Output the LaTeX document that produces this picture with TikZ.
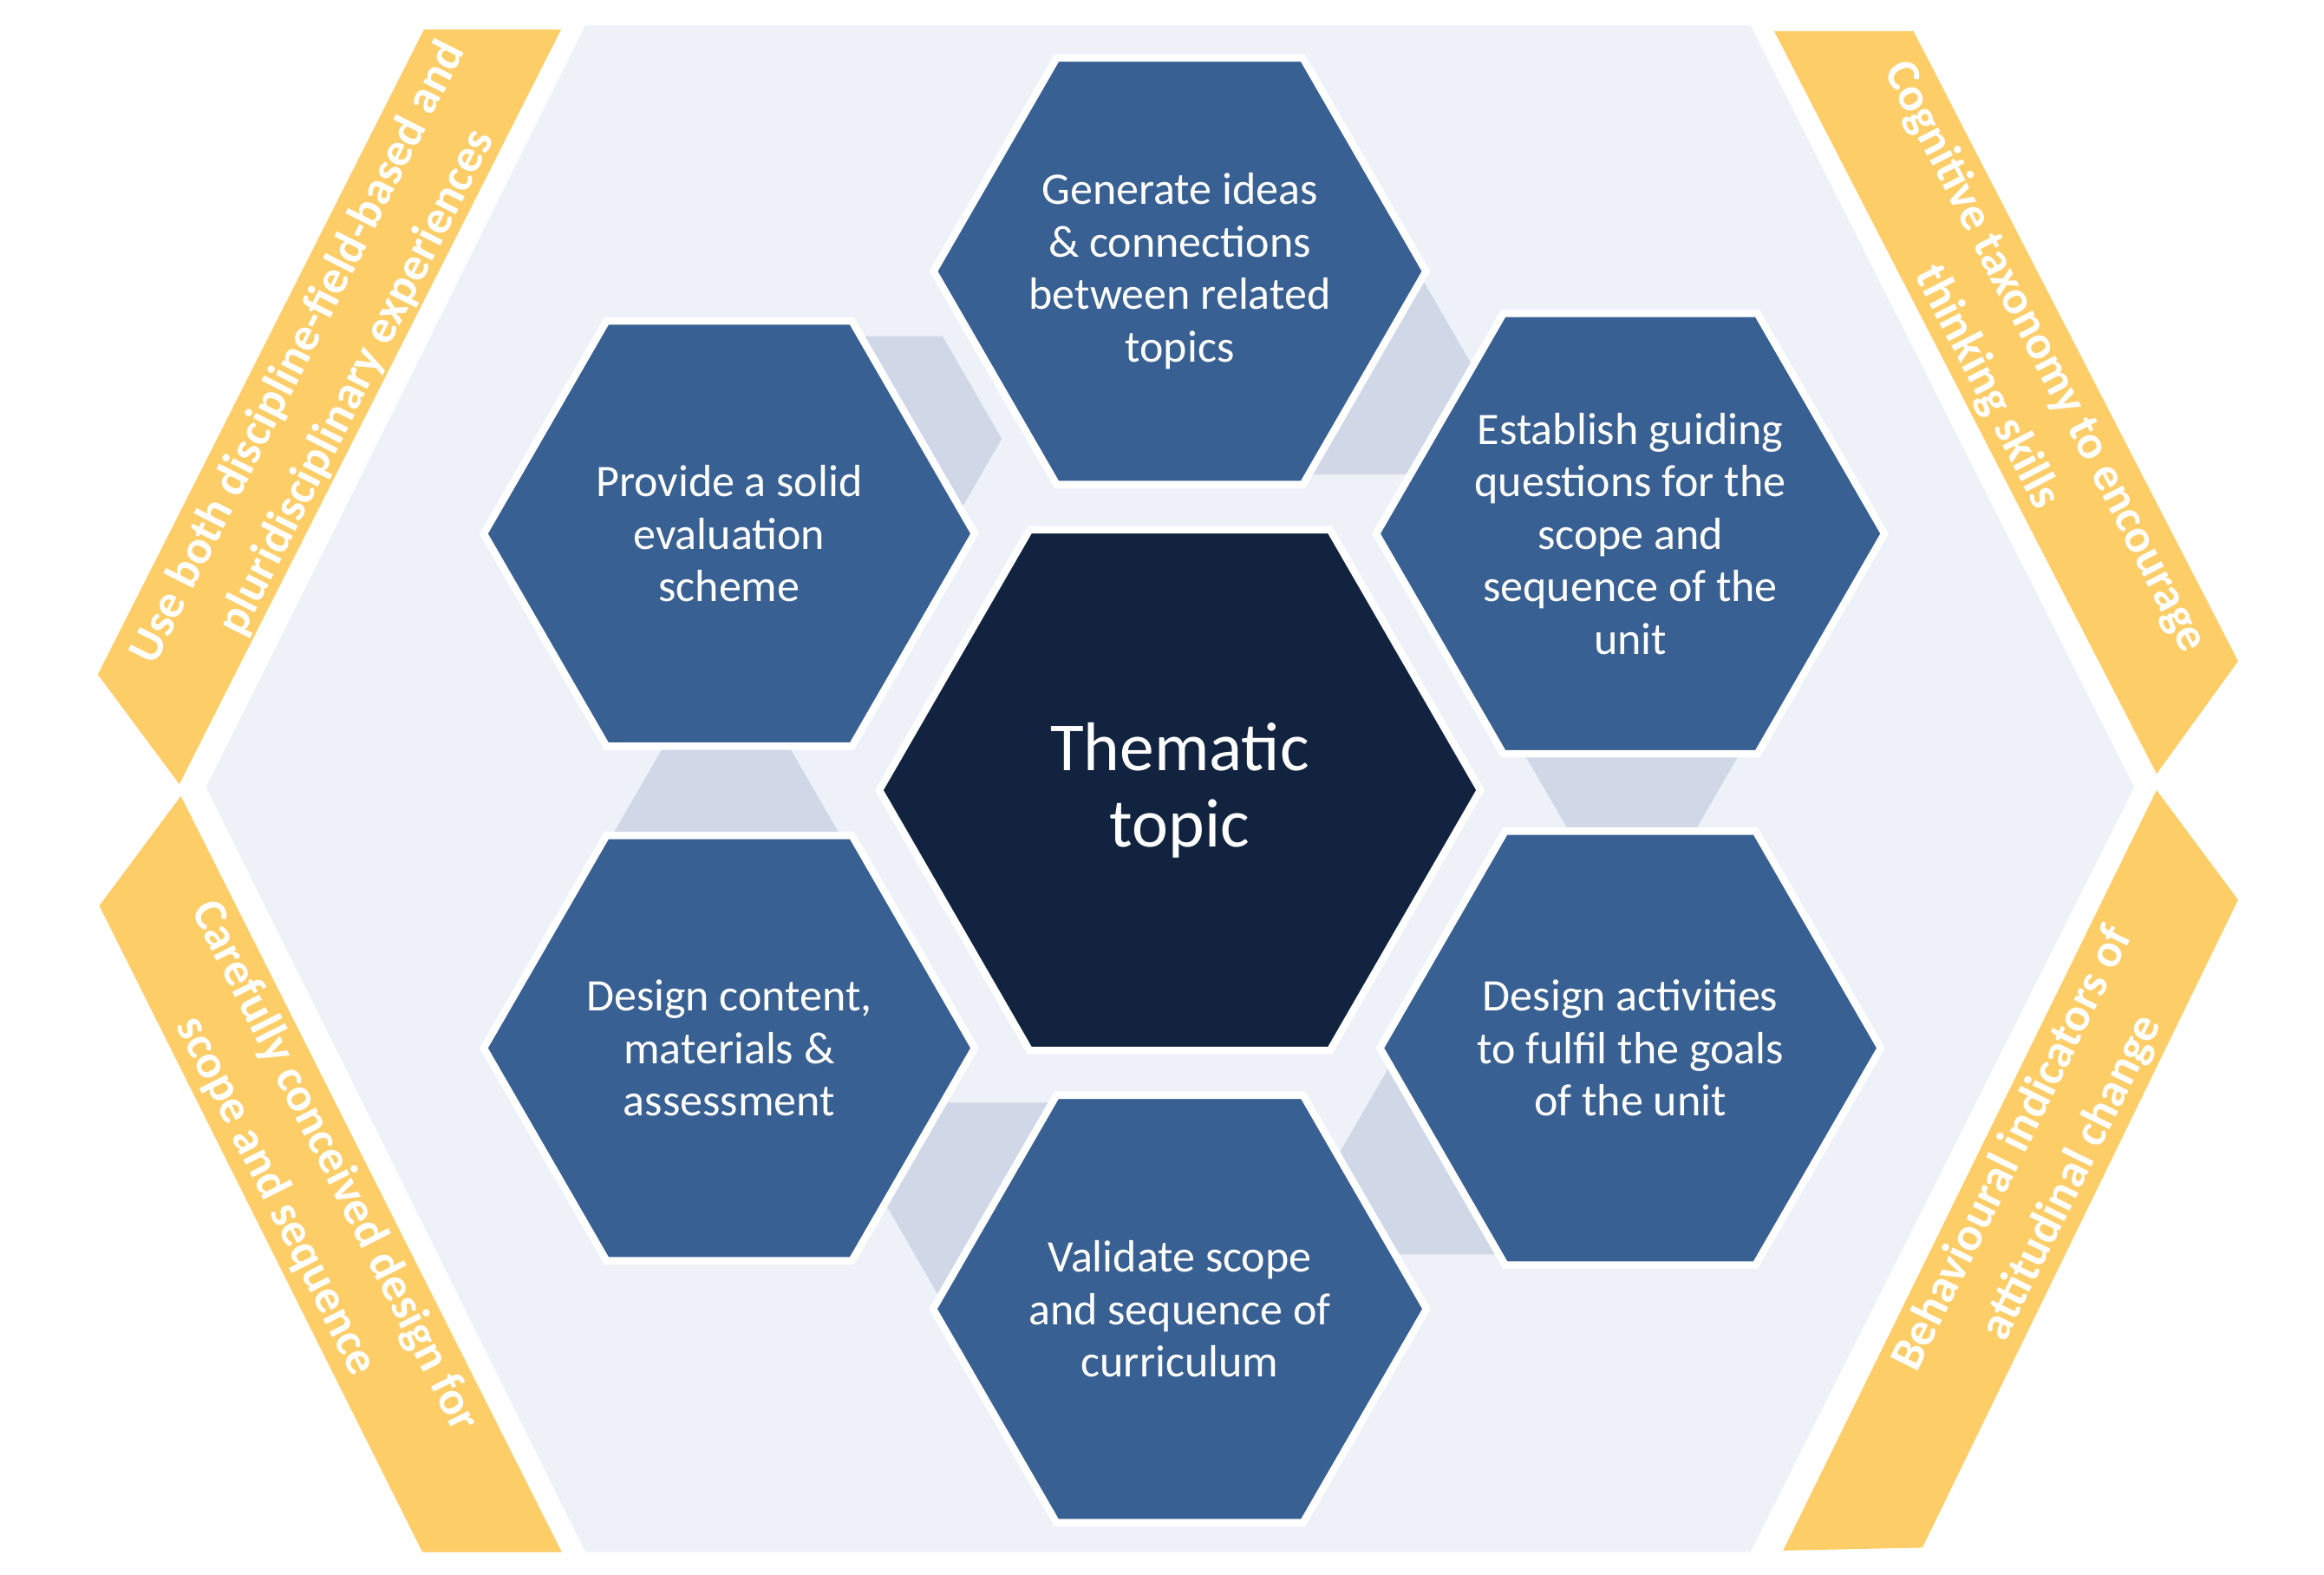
\documentclass[tikz,border=0pt]{standalone}
\usepackage{fontspec}
\setmainfont{Carlito}
\usepackage{tikz}
\usetikzlibrary{shapes.geometric}

\definecolor{bgpanel}{HTML}{EEF2F8}
\definecolor{linkgrey}{HTML}{D0D8E8}
\definecolor{hexblue}{HTML}{386092}
\definecolor{hubnavy}{HTML}{12233F}
\definecolor{bandgold}{HTML}{FDCD67}

\begin{document}
\begin{tikzpicture}[x=0.01709cm, y=-0.01709cm,
    sat/.style={regular polygon, regular polygon sides=6, minimum size=5.66cm, inner sep=0pt,
        fill=hexblue, draw=white, line width=2.4pt, text=white, align=center,
        font=\fontsize{14.8}{17.2}\selectfont},
    hub/.style={sat, minimum size=6.93cm, fill=hubnavy, font=\fontsize{22.6}{25}\selectfont},
    link/.style={regular polygon, regular polygon sides=6, minimum size=2.73cm, inner sep=0pt, fill=linkgrey},
    band/.style={fill=bandgold},
    bandtext/.style={text=white, align=center, inner sep=0pt, font=\bfseries\fontsize{15.5}{21.5}\selectfont}]
    \useasboundingbox (0,0) rectangle (1568,1062);

    % Background panel
    \fill[bgpanel] (395,17) -- (1181,17) -- (1440,531) -- (1181,1047) -- (395,1047) -- (139,531) -- cycle;

    % Side bands
    \fill[band] (286,20) -- (378.5,20) -- (121,529) -- (66,455) -- cycle;
    \fill[band] (122,537) -- (67,611) -- (285,1047) -- (379,1047) -- cycle;
    \fill[band] (1197,21) -- (1291,21) -- (1510,446) -- (1455,522) -- cycle;
    \fill[band] (1455,533) -- (1510,607) -- (1297,1044) -- (1203,1046) -- cycle;

    \node[bandtext, rotate=63.2]  (T_UL) at (221,248) {Use both discipline-field-based and\\pluridisciplinary experiences};
    \node[bandtext, rotate=-63.3] (T_LL) at (206,797) {Carefully conceived design for\\scope and sequence};
    \node[bandtext, rotate=-62.8] (T_UR) at (1360,251) {Cognitive taxonomy to encourage\\thinking skills};
    \node[bandtext, rotate=63.8]  (T_LR) at (1378,785) {Behavioural indicators of\\attitudinal change};

    % Links between neighbours
    \node[link] (L_ES_GI) at (596,296) {};
    \node[link] (L_GI_GQ) at (916,251) {};
    \node[link] (L_GQ_DA) at (1101,496) {};
    \node[link] (L_DA_VS) at (984,777) {};
    \node[link] (L_VS_DC) at (677.8,813) {};
    \node[link] (L_DC_ES) at (490,568.6) {};

    % Hexagons
    \node[hub] (H_TT) at (796,533) {Thematic\\topic};
    \node[sat] (H_GI) at (796,183) {Generate ideas\\\& connections\\between related\\topics};
    \node[sat] (H_GQ) at (1100,360) {Establish guiding\\questions for the\\scope and\\sequence of the\\unit};
    \node[sat] (H_DA) at (1100,707) {Design activities\\to fulfil the goals\\of the unit};
    \node[sat] (H_VS) at (796,883) {Validate scope\\and sequence of\\curriculum};
    \node[sat] (H_DC) at (492,707) {Design content,\\materials \&\\assessment};
    \node[sat] (H_ES) at (492,360) {Provide a solid\\evaluation\\scheme};

\end{tikzpicture}
\end{document}
